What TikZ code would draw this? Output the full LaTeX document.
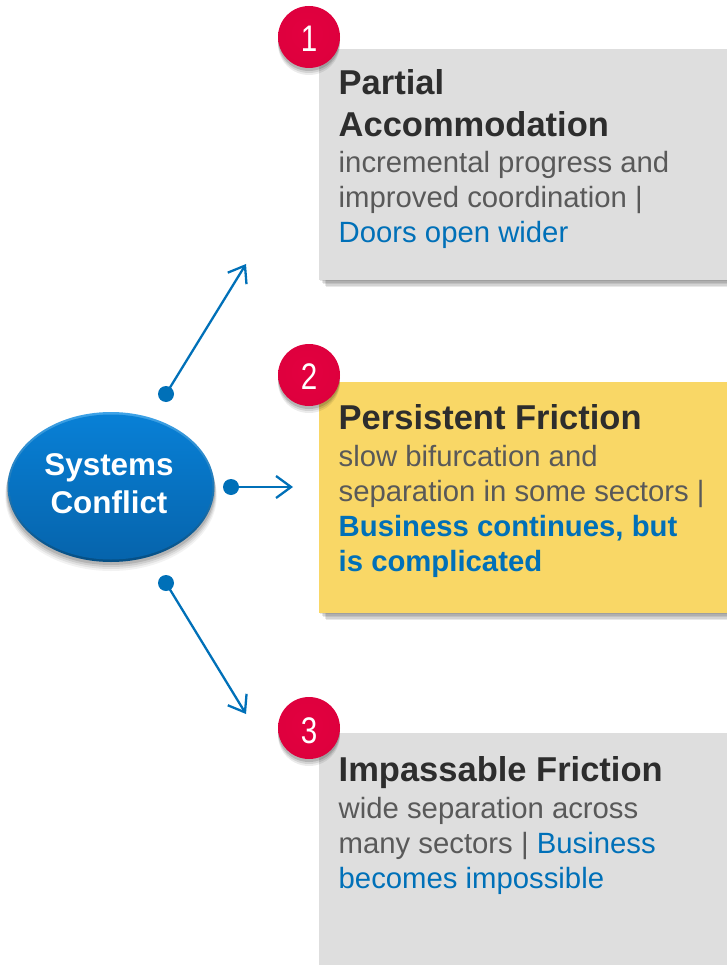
\documentclass[tikz,border=0pt]{standalone}
\usepackage{fontspec}
\setmainfont{Liberation Sans}
\usetikzlibrary{arrows.meta,shapes.geometric}
\definecolor{bluetxt}{HTML}{0070B8}
\definecolor{graytxt}{HTML}{595959}
\definecolor{headtxt}{HTML}{2D2D2D}
\definecolor{boxgray}{HTML}{DEDEDE}
\definecolor{boxgold}{HTML}{F9D766}
\pgfdeclareradialshading{badgeshade}{\pgfpoint{-2bp}{3bp}}{
  rgb(0bp)=(0.89,0,0.25);
  rgb(26bp)=(0.87,0,0.24);
  rgb(36bp)=(0.80,0,0.22);
  rgb(44bp)=(0.66,0.01,0.19);
  rgb(52bp)=(0.42,0.02,0.14);
  rgb(100bp)=(0.42,0.02,0.14)}
\tikzset{
  x=1pt,y=-1pt,
  infobox/.style={minimum width=408pt,minimum height=231pt,inner sep=0pt,anchor=north west},
  shadowlayer/.style={fill=black,draw=none,fill opacity=0.09},
  headtext/.style={anchor=north west,inner sep=0pt,align=flush left,text width=385pt,text=headtxt,
    font=\fontsize{34.5}{42}\selectfont\bfseries},
  bodytext/.style={anchor=north west,inner sep=0pt,align=flush left,text width=385pt,text=graytxt,
    font=\fontsize{29.3}{35}\selectfont},
  badge/.style={circle,minimum size=62pt,inner sep=0pt,shading=badgeshade,draw=none},
  badgenum/.style={text=white,font=\fontsize{37}{37}\selectfont,xscale=0.8,transform shape,inner sep=0pt},
  dotnode/.style={circle,fill=bluetxt,minimum size=16pt,inner sep=0pt,draw=none},
  link/.style={draw=bluetxt,line width=2.3pt,-{Straight Barb[length=15pt,width=22pt,line width=2.3pt]}},
}
\newcommand{\boxshadow}[4]{%
  \foreach \d in {1,2.5,4,5.5,7}{
    \fill[shadowlayer] (#1+\d,#2+\d) rectangle (#3+\d,#4+\d);
  }}
\begin{document}
\begin{tikzpicture}
\useasboundingbox (0,0) rectangle (727,965);
% box shadows
\boxshadow{319}{49}{727}{280}
\boxshadow{319}{382}{727}{613}
% boxes
\node[infobox,fill=boxgray] (box1) at (319,49) {};
\node[infobox,fill=boxgold] (box2) at (319,382) {};
\node[infobox,fill=boxgray,minimum height=232pt] (box3) at (319,733) {};
% text
\node[headtext] (h1) at (338.5,69) {Partial\\Accommodation};
\node[bodytext] (t1) at (338.5,151) {incremental progress and\\improved coordination |\\{\color{bluetxt}Doors open wider}};
\node[headtext] (h2) at (338.5,404) {Persistent Friction};
\node[bodytext] (t2) at (338.5,445) {slow bifurcation and\\separation in some sectors |\\{\color{bluetxt}\bfseries Business continues, but}\\{\color{bluetxt}\bfseries is complicated}};
\node[headtext] (h3) at (338.5,756) {Impassable Friction};
\node[bodytext] (t3) at (338.5,797) {wide separation across\\many sectors | {\color{bluetxt}Business}\\{\color{bluetxt}becomes impossible}};
% central ellipse shadow
\foreach \d/\o in {9/0.05,7/0.07,5/0.09,3/0.12}{
  \fill[black,opacity=\o] (111,487+\d) ellipse [x radius=103.5+\d/4,y radius=75];
}
\node[ellipse,minimum width=207pt,minimum height=150pt,inner sep=0pt,draw=none,
  top color={rgb,255:red,62;green,163;blue,232},bottom color={rgb,255:red,4;green,78;blue,132}] (hub) at (111,487) {};
\shade[top color={rgb,255:red,8;green,128;blue,214},bottom color={rgb,255:red,6;green,100;blue,172}] (111,487) ellipse [x radius=101.5,y radius=72.5];
\node[text=white,font=\fontsize{31.4}{38}\selectfont\bfseries,align=center,inner sep=0pt] (hubtext) at (109,484) {Systems\\Conflict};
% badges
\foreach \cx/\cy in {309/37,309/375,309/728}{
  \foreach \d/\o in {7/0.08,5/0.1,3/0.14}{
    \fill[black,opacity=\o] (\cx,\cy+\d) circle [radius=31];
  }
}
\node[badge] (b1) at (309,37) {};
\node[badge] (b2) at (309,375) {};
\node[badge] (b3) at (309,728) {};
\node[badgenum] at (309,39) {1};
\node[badgenum] at (309,377) {2};
\node[badgenum] at (309,731) {3};
% connectors
\node[dotnode] (d1) at (166,394) {};
\node[dotnode] (d2) at (231,487) {};
\node[dotnode] (d3) at (166,583) {};
\coordinate (e1) at (246,264);
\coordinate (e2) at (293,487);
\coordinate (e3) at (246,714);
\draw[link] (d1.center) -- (e1);
\draw[link] (d2.center) -- (e2);
\draw[link] (d3.center) -- (e3);
\end{tikzpicture}
\end{document}
